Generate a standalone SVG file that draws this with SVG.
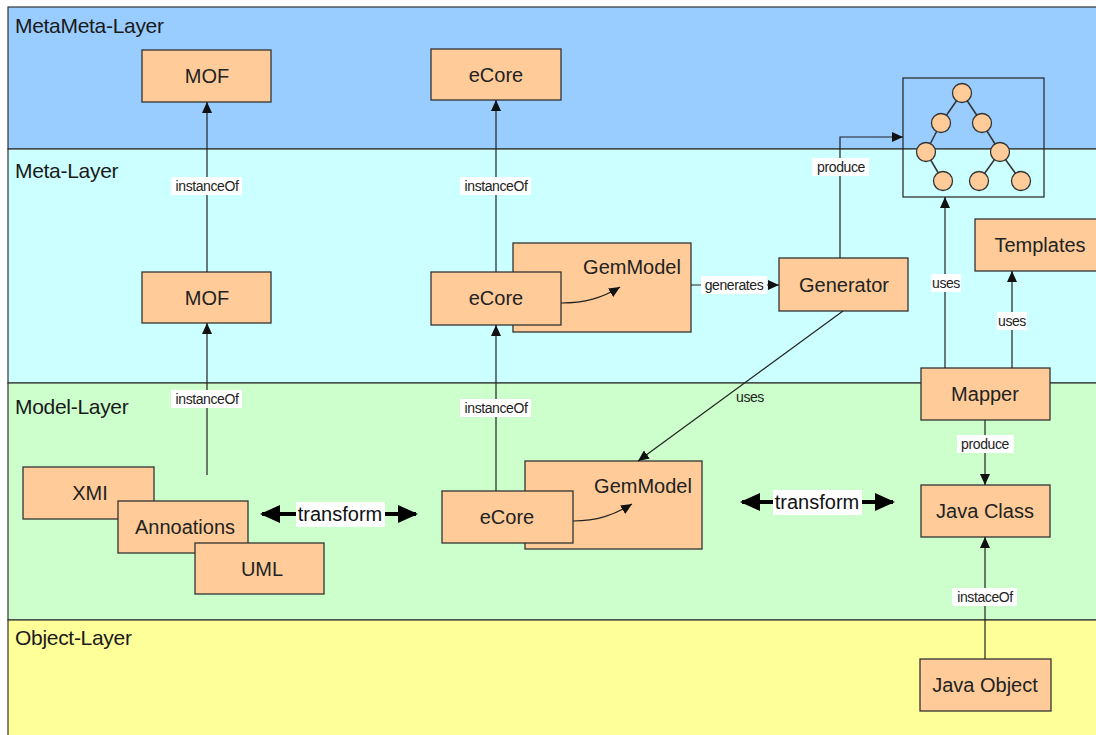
<svg xmlns="http://www.w3.org/2000/svg" width="1096" height="735" viewBox="0 0 1096 735">
  <defs>
    <marker id="arrow" markerUnits="userSpaceOnUse" markerWidth="11" markerHeight="10" refX="11" refY="5" orient="auto">
      <path d="M0,0 L11,5 L0,10 z" fill="#111"/>
    </marker>
    <marker id="bigArrow" markerUnits="userSpaceOnUse" markerWidth="20" markerHeight="18" refX="18" refY="9" orient="auto-start-reverse">
      <path d="M0,0 L20,9 L0,18 z" fill="#000"/>
    </marker>
    <style>
      .layer { stroke: #333; stroke-width: 1.2; }
      .layerLabel { font-family: "Liberation Sans", Arial, sans-serif; font-size: 21px; fill: #1a1a1a; letter-spacing: -0.3px; }
      .node rect { fill: #FFCC99; stroke: #333; stroke-width: 1.3; }
      .node text { font-family: "Liberation Sans", Arial, sans-serif; font-size: 20px; fill: #222; text-anchor: middle; dominant-baseline: central; }
      .conn { fill: none; stroke: #222; stroke-width: 1.2; }
      .thick { fill: none; stroke: #000; stroke-width: 4; }
      .lblBg { fill: #fff; }
      .lbl { font-family: "Liberation Sans", Arial, sans-serif; font-size: 14px; fill: #222; text-anchor: middle; dominant-baseline: central; letter-spacing: -0.4px; }
      .bigLbl { font-family: "Liberation Sans", Arial, sans-serif; font-size: 20px; fill: #111; text-anchor: middle; dominant-baseline: central; }
      .tree circle { fill: #FFCC99; stroke: #333; stroke-width: 1.3; }
      .tree line { stroke: #333; stroke-width: 1.5; }
    </style>
  </defs>

  <rect width="1096" height="735" fill="#fff"/>

  <!-- layer bands -->
  <g id="layers">
    <rect class="layer" x="8" y="7" width="1100" height="142" fill="#99CCFF"/>
    <rect class="layer" x="8" y="149" width="1100" height="234" fill="#CCFFFF"/>
    <rect class="layer" x="8" y="383" width="1100" height="237" fill="#CCFFCC"/>
    <rect class="layer" x="8" y="620" width="1100" height="130" fill="#FFFF99"/>
    <text class="layerLabel" x="15" y="33">MetaMeta-Layer</text>
    <text class="layerLabel" x="15" y="178">Meta-Layer</text>
    <text class="layerLabel" x="15" y="414">Model-Layer</text>
    <text class="layerLabel" x="15" y="645">Object-Layer</text>
  </g>

  <!-- tree symbol -->
  <g id="tree" class="tree">
    <rect x="903" y="78" width="141" height="119" fill="none" stroke="#222" stroke-width="1.2"/>
    <line x1="962" y1="93" x2="941" y2="123"/>
    <line x1="962" y1="93" x2="982" y2="123"/>
    <line x1="941" y1="123" x2="926" y2="152"/>
    <line x1="982" y1="123" x2="1000" y2="152"/>
    <line x1="926" y1="152" x2="943" y2="181"/>
    <line x1="1000" y1="152" x2="979" y2="181"/>
    <line x1="1000" y1="152" x2="1021" y2="181"/>
    <circle cx="962" cy="93" r="9.5"/>
    <circle cx="941" cy="123" r="9.5"/>
    <circle cx="982" cy="123" r="9.5"/>
    <circle cx="926" cy="152" r="9.5"/>
    <circle cx="1000" cy="152" r="9.5"/>
    <circle cx="943" cy="181" r="9.5"/>
    <circle cx="979" cy="181" r="9.5"/>
    <circle cx="1021" cy="181" r="9.5"/>
  </g>

  <!-- nodes -->
  <g id="mof-top" class="node"><rect x="142" y="50" width="129" height="52"/><text x="207" y="76">MOF</text></g>
  <g id="ecore-top" class="node"><rect x="431" y="49" width="130" height="51"/><text x="496" y="75">eCore</text></g>
  <g id="mof-meta" class="node"><rect x="142" y="272" width="129" height="51"/><text x="207" y="298">MOF</text></g>
  <g id="gemmodel-meta" class="node"><rect x="513" y="243" width="178" height="89"/><text x="632" y="267">GemModel</text></g>
  <g id="ecore-meta" class="node"><rect x="431" y="272" width="130" height="53"/><text x="496" y="298">eCore</text></g>
  <g id="generator" class="node"><rect x="779" y="258" width="129" height="53"/><text x="844" y="285">Generator</text></g>
  <g id="templates" class="node"><rect x="975" y="219" width="130" height="52"/><text x="1040" y="245">Templates</text></g>
  <g id="mapper" class="node"><rect x="921" y="368" width="129" height="52"/><text x="985" y="394">Mapper</text></g>
  <g id="xmi" class="node"><rect x="23" y="467" width="131" height="52"/><text x="90" y="493">XMI</text></g>
  <g id="annoations" class="node"><rect x="118" y="501" width="130" height="52"/><text x="185" y="527">Annoations</text></g>
  <g id="uml" class="node"><rect x="195" y="543" width="129" height="51"/><text x="262" y="569">UML</text></g>
  <g id="gemmodel-model" class="node"><rect x="525" y="461" width="177" height="88"/><text x="643" y="486">GemModel</text></g>
  <g id="ecore-model" class="node"><rect x="442" y="491" width="131" height="52"/><text x="507" y="517">eCore</text></g>
  <g id="java-class" class="node"><rect x="921" y="485" width="129" height="52"/><text x="985" y="511">Java Class</text></g>
  <g id="java-object" class="node"><rect x="920" y="659" width="131" height="52"/><text x="985" y="685">Java Object</text></g>

  <!-- connectors -->
  <g id="connectors">
    <line class="conn" x1="207" y1="272" x2="207" y2="102" marker-end="url(#arrow)"/>
    <line class="conn" x1="496" y1="272" x2="496" y2="100" marker-end="url(#arrow)"/>
    <line class="conn" x1="207" y1="475" x2="207" y2="323" marker-end="url(#arrow)"/>
    <line class="conn" x1="496" y1="491" x2="496" y2="325" marker-end="url(#arrow)"/>
    <path class="conn" d="M561,303 C585,303 602,298 620,287" marker-end="url(#arrow)"/>
    <path class="conn" d="M573,521 C597,521 614,515 632,504" marker-end="url(#arrow)"/>
    <line class="conn" x1="691" y1="285" x2="779" y2="285" marker-end="url(#arrow)"/>
    <polyline class="conn" points="840,258 840,137 903,137" marker-end="url(#arrow)"/>
    <line class="conn" x1="843" y1="311" x2="638" y2="461" marker-end="url(#arrow)"/>
    <line class="conn" x1="945" y1="368" x2="945" y2="197" marker-end="url(#arrow)"/>
    <line class="conn" x1="1012" y1="368" x2="1012" y2="271" marker-end="url(#arrow)"/>
    <line class="conn" x1="985" y1="420" x2="985" y2="485" marker-end="url(#arrow)"/>
    <line class="conn" x1="985" y1="659" x2="985" y2="537" marker-end="url(#arrow)"/>
    <line class="thick" x1="262" y1="514" x2="416" y2="514" marker-start="url(#bigArrow)" marker-end="url(#bigArrow)"/>
    <line class="thick" x1="742" y1="502" x2="893" y2="502" marker-start="url(#bigArrow)" marker-end="url(#bigArrow)"/>

    <!-- labels -->
    <rect class="lblBg" x="171" y="177" width="71" height="18"/><text class="lbl" x="207" y="186">instanceOf</text>
    <rect class="lblBg" x="460" y="177" width="71" height="18"/><text class="lbl" x="496" y="186">instanceOf</text>
    <rect class="lblBg" x="171" y="390" width="71" height="18"/><text class="lbl" x="207" y="399">instanceOf</text>
    <rect class="lblBg" x="460" y="399" width="71" height="18"/><text class="lbl" x="496" y="408">instanceOf</text>
    <rect class="lblBg" x="701" y="276" width="66" height="18"/><text class="lbl" x="734" y="285">generates</text>
    <rect class="lblBg" x="812" y="158" width="57" height="18"/><text class="lbl" x="841" y="167">produce</text>
    <text class="lbl" x="750" y="397">uses</text>
    <rect class="lblBg" x="931" y="274" width="30" height="18"/><text class="lbl" x="946" y="283">uses</text>
    <rect class="lblBg" x="997" y="312" width="30" height="18"/><text class="lbl" x="1012" y="321">uses</text>
    <rect class="lblBg" x="957" y="435" width="57" height="18"/><text class="lbl" x="985" y="444">produce</text>
    <rect class="lblBg" x="952" y="588" width="65" height="18"/><text class="lbl" x="985" y="597">instaceOf</text>
    <rect class="lblBg" x="296" y="502" width="89" height="25"/><text class="bigLbl" x="340" y="514">transform</text>
    <rect class="lblBg" x="773" y="490" width="89" height="25"/><text class="bigLbl" x="817" y="502">transform</text>
  </g>
</svg>
